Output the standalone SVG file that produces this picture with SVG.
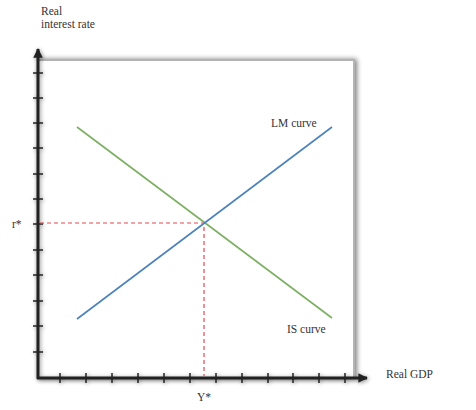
<svg xmlns="http://www.w3.org/2000/svg" width="476" height="410" viewBox="0 0 476 410">
<defs>
<filter id="sh" x="-10%" y="-10%" width="130%" height="130%">
<feGaussianBlur in="SourceAlpha" stdDeviation="2"/>
<feOffset dx="1" dy="1" result="b"/>
<feComponentTransfer><feFuncA type="linear" slope="0.45"/></feComponentTransfer>
<feMerge><feMergeNode/><feMergeNode in="SourceGraphic"/></feMerge>
</filter>
<filter id="sh2" x="-10%" y="-10%" width="130%" height="130%">
<feGaussianBlur in="SourceAlpha" stdDeviation="2.5"/>
<feOffset dx="2" dy="0" result="b"/>
<feComponentTransfer><feFuncA type="linear" slope="0.5"/></feComponentTransfer>
<feMerge><feMergeNode/><feMergeNode in="SourceGraphic"/></feMerge>
</filter>
<marker id="ah" viewBox="0 0 10 10" refX="9" refY="5" markerWidth="3.2" markerHeight="3.2" orient="auto" markerUnits="strokeWidth">
<path d="M0,0 L10,5 L0,10 z" fill="#222"/>
</marker>
<style>
text{font-family:"Liberation Serif","Times New Roman",serif;fill:#333;font-size:11.5px}
.ax{stroke:#222;stroke-width:3;fill:none}
.tk{stroke:#222;stroke-width:1.5}
.dash{stroke:#e8474d;stroke-width:1.2;stroke-dasharray:4,3;fill:none}
</style>
</defs>
<rect width="476" height="410" fill="#fff"/>
<g id="frame">
<rect x="38" y="60" width="316" height="318" fill="#fff" stroke="#b4b4b4" stroke-width="2" filter="url(#sh2)"/>
</g>
<g id="axes" filter="url(#sh)">
<line class="ax" x1="38" y1="379" x2="38" y2="49" marker-end="url(#ah)"/>
<line class="ax" x1="37" y1="378" x2="367" y2="378" marker-end="url(#ah)"/>
<g class="tk">
<line x1="33" y1="73" x2="43" y2="73"/>
<line x1="33" y1="98" x2="43" y2="98"/>
<line x1="33" y1="123" x2="43" y2="123"/>
<line x1="33" y1="148" x2="43" y2="148"/>
<line x1="33" y1="174" x2="43" y2="174"/>
<line x1="33" y1="199" x2="43" y2="199"/>
<line x1="33" y1="224" x2="43" y2="224"/>
<line x1="33" y1="250" x2="43" y2="250"/>
<line x1="33" y1="275" x2="43" y2="275"/>
<line x1="33" y1="301" x2="43" y2="301"/>
<line x1="33" y1="326" x2="43" y2="326"/>
<line x1="33" y1="352" x2="43" y2="352"/>
<line x1="60" y1="373" x2="60" y2="383"/>
<line x1="86" y1="373" x2="86" y2="383"/>
<line x1="112" y1="373" x2="112" y2="383"/>
<line x1="138" y1="373" x2="138" y2="383"/>
<line x1="164" y1="373" x2="164" y2="383"/>
<line x1="190" y1="373" x2="190" y2="383"/>
<line x1="216" y1="373" x2="216" y2="383"/>
<line x1="242" y1="373" x2="242" y2="383"/>
<line x1="268" y1="373" x2="268" y2="383"/>
<line x1="293" y1="373" x2="293" y2="383"/>
<line x1="319" y1="373" x2="319" y2="383"/>
<line x1="345" y1="373" x2="345" y2="383"/>
</g>
</g>
<g id="connectors">
<path class="dash" d="M40,223 H204 V376"/>
<line id="is-curve" x1="77" y1="127" x2="332" y2="318" stroke="#7bb062" stroke-width="1.6"/>
<line id="lm-curve" x1="77" y1="319" x2="332" y2="127" stroke="#4b82bc" stroke-width="1.6"/>
</g>
<g id="labels">
<text x="41" y="15">Real</text>
<text x="41" y="28">interest rate</text>
<text x="271" y="127">LM curve</text>
<text x="287" y="333">IS curve</text>
<text x="12" y="228">r*</text>
<text x="197" y="401">Y*</text>
<text x="386" y="378">Real GDP</text>
</g>
</svg>
